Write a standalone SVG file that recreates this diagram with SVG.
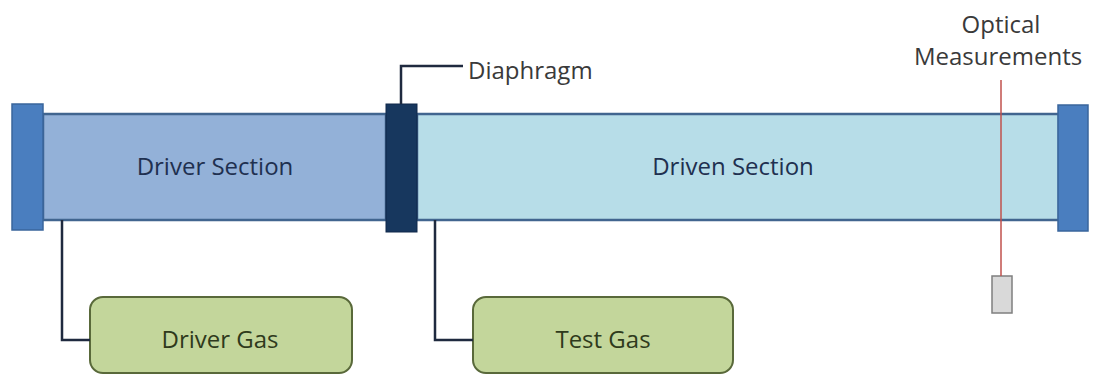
<svg xmlns="http://www.w3.org/2000/svg" width="1102" height="374" viewBox="0 0 1102 374">
  <style>
    .lbl { font-family: "Open Sans", "Liberation Sans", sans-serif; font-size: 24px; }
    .sec { fill: #1f3050; text-anchor: middle; }
    .gas { fill: #2f3a1c; text-anchor: middle; }
    .note { fill: #3a3a3a; }
    .flange { fill: #4a7ebf; stroke: #3a669c; stroke-width: 1.5; }
    .tube { stroke: #41658f; stroke-width: 2.5; }
    .gasbox { fill: #c3d69b; stroke: #59693a; stroke-width: 2; }
    .lead { fill: none; stroke: #1f2a3f; stroke-width: 2.5; }
  </style>
  <rect width="1102" height="374" fill="#ffffff"/>

  <g id="driver-section">
    <rect class="tube" x="43" y="114" width="343" height="106" fill="#93b1d8"/>
    <text class="lbl sec" x="215" y="175">Driver Section</text>
  </g>
  <g id="driven-section">
    <rect class="tube" x="417" y="114" width="642" height="106" fill="#b7dde8"/>
    <text class="lbl sec" x="733" y="175">Driven Section</text>
  </g>
  <g id="left-flange">
    <rect class="flange" x="12" y="104" width="31" height="126"/>
  </g>
  <g id="right-flange">
    <rect class="flange" x="1058" y="105" width="30" height="126"/>
  </g>
  <g id="diaphragm">
    <rect x="386" y="104" width="31" height="128" fill="#17375e" stroke="#10284a" stroke-width="1"/>
    <text class="lbl note" x="468" y="79">Diaphragm</text>
  </g>
  <g id="driver-gas">
    <rect class="gasbox" x="90" y="297" width="262" height="76" rx="13"/>
    <text class="lbl gas" x="220" y="348">Driver Gas</text>
  </g>
  <g id="test-gas">
    <rect class="gasbox" x="473" y="297" width="260" height="76" rx="13"/>
    <text class="lbl gas" x="603" y="348">Test Gas</text>
  </g>
  <g id="optical-measurements">
    <text class="lbl note" x="1001" y="33" text-anchor="middle">Optical</text>
    <text class="lbl note" x="998" y="65" text-anchor="middle">Measurements</text>
    <rect x="992" y="276" width="20" height="37" fill="#d9d9d9" stroke="#7f7f7f" stroke-width="1.5"/>
  </g>

  <g id="connectors">
    <polyline class="lead" points="401,104 401,66 463,66"/>
    <polyline class="lead" points="62,220 62,340 90,340"/>
    <polyline class="lead" points="435,220 435,340 473,340"/>
    <line x1="1001" y1="80" x2="1001" y2="276" stroke="#c0504d" stroke-width="1.5"/>
  </g>
</svg>
